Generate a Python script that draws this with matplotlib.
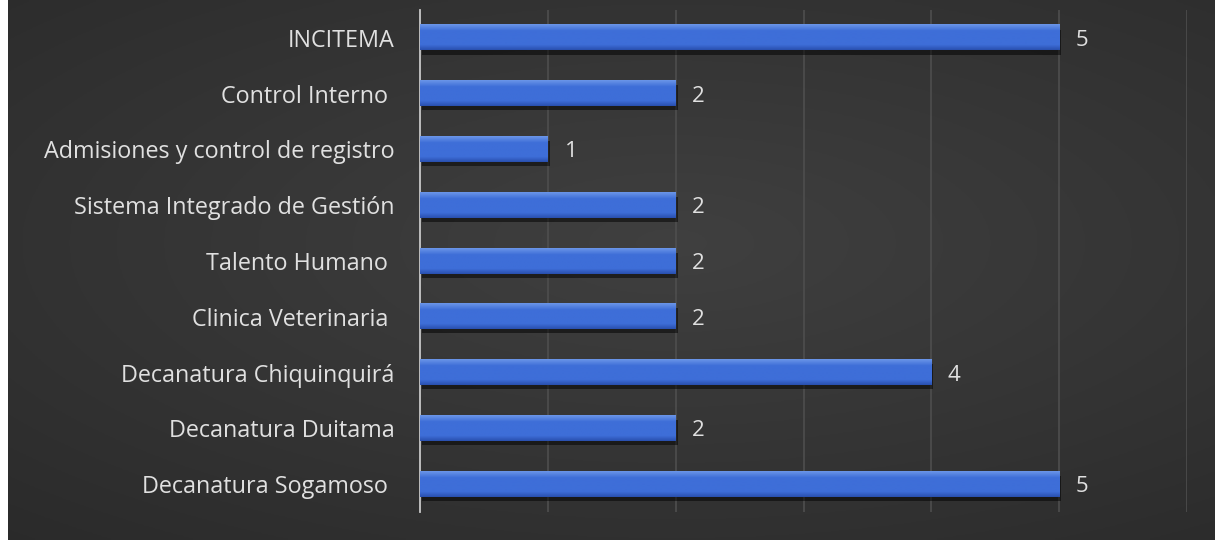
import numpy as np
import matplotlib
matplotlib.use('Agg')
import matplotlib.pyplot as plt
import matplotlib.patheffects as pe

# categories listed bottom to top, as the chart draws them
areas = ['Decanatura Sogamoso ', 'Decanatura Duitama', 'Decanatura Chiquinquirá',
         'Clinica Veterinaria ', 'Talento Humano ', 'Sistema Integrado de Gestión',
         'Admisiones y control de registro', 'Control Interno ', 'INCITEMA']
counts = [5, 2, 4, 2, 2, 2, 1, 2, 5]

W, H = 1215, 540
fig = plt.figure(figsize=(W / 100, H / 100), dpi=100)
fig.patch.set_facecolor('white')

# dark vignette background
bg = fig.add_axes([8 / W, 0, 1 - 8 / W, 1], zorder=0)
yy, xx = np.mgrid[0:1:200j, 0:1:400j]
r = np.sqrt(((xx - 0.55) / 0.9) ** 2 + ((yy - 0.45) / 0.8) ** 2)
shade = 0.25 - 0.09 * np.clip(r, 0, 1)
bg.imshow(np.dstack([shade, shade, shade]), aspect='auto', extent=[0, 1, 0, 1])
bg.axis('off')

ax = fig.add_axes([420 / W, 28 / H, (1187 - 420) / W, (530 - 28) / H], zorder=1)
ax.patch.set_alpha(0)

y = np.arange(len(areas))
bars = ax.barh(y, counts, height=0.45, color='#3d6cd5', zorder=3,
               path_effects=[pe.SimplePatchShadow(offset=(1.5, -3), shadow_rgbFace='black', alpha=0.5),
                             pe.Normal()])

# vertical gradient over each bar (light top edge, darker bottom edge)
top = np.array([0x6a, 0x95, 0xe8]) / 255
mid = np.array([0x3e, 0x6e, 0xd8]) / 255
bot = np.array([0x2a, 0x50, 0xb0]) / 255
t = np.linspace(0, 1, 40)[:, None]
grad = np.where(t < 0.25, top + (mid - top) * (t / 0.25),
                np.where(t < 0.8, mid, mid + (bot - mid) * ((t - 0.8) / 0.2)))
grad = grad[:, None, :]
for b in bars:
    ax.imshow(grad, aspect='auto', zorder=4, interpolation='bilinear',
              extent=[b.get_x(), b.get_x() + b.get_width(),
                      b.get_y(), b.get_y() + b.get_height()], origin='upper')

for yi, c in zip(y, counts):
    ax.text(c + 0.13, yi, str(c), va='center_baseline', ha='left', color='#e0e0e0',
            fontsize=16, family='Open Sans')

ax.set_xlim(0, 6)
ax.set_ylim(-0.5, len(areas) - 0.5)
ax.set_xticks(range(1, 7))
ax.xaxis.grid(True, color='#4e4e4e', linewidth=1.2, zorder=0)
ax.set_axisbelow(True)
ax.tick_params(axis='x', bottom=False, labelbottom=False)
ax.tick_params(axis='y', left=False, pad=15, labelsize=16.8, labelcolor='#e0e0e0')
ax.set_yticks(y)
ax.set_yticklabels(areas, family='Open Sans')
for s in ['top', 'right', 'bottom']:
    ax.spines[s].set_visible(False)
ax.spines['left'].set_color('#c8c8c8')
ax.spines['left'].set_linewidth(1.3)

fig.savefig('out.png', dpi=100)
